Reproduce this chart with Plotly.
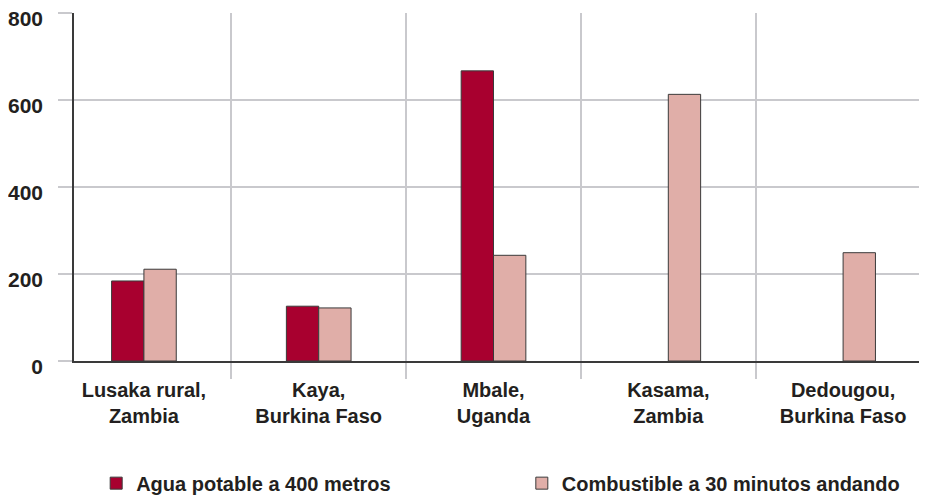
import plotly.graph_objects as go

categories = ["Lusaka rural,<br>Zambia", "Kaya,<br>Burkina Faso", "Mbale,<br>Uganda",
              "Kasama,<br>Zambia", "Dedougou,<br>Burkina Faso"]
agua = [184, 126, 667, None, None]
combustible = [211, 122, 243, 613, 249]
series_names = ["Agua potable a 400 metros", "Combustible a 30 minutos andando"]
y_ticks = [0, 200, 400, 600, 800]

FONT = "Liberation Sans"
TEXT = "#231F20"
GRID = "#C9C9CD"
LINE = "#3a3a3a"

fig = go.Figure()
fig.add_trace(go.Bar(x=categories, y=agua, name=series_names[0], legend="legend",
                     marker=dict(color="#A8002F", line=dict(color=LINE, width=1))))
fig.add_trace(go.Bar(x=categories, y=combustible, name=series_names[1], legend="legend2",
                     marker=dict(color="#E0AEA8", line=dict(color=LINE, width=1))))

legend_font = dict(family=FONT, size=20, color=TEXT, weight="bold")
fig.update_layout(
    width=927, height=495,
    margin=dict(l=66, r=8, t=5, b=142, autoexpand=False),
    plot_bgcolor="white", paper_bgcolor="white",
    barmode="group", bargap=0.63, bargroupgap=0,
    font=dict(family=FONT, color=TEXT, size=20),
    showlegend=True,
    legend=dict(orientation="h", x=0.026, y=-0.351, xanchor="left", yanchor="middle",
                font=legend_font, bgcolor="rgba(0,0,0,0)"),
    legend2=dict(orientation="h", x=0.525, y=-0.351, xanchor="left", yanchor="middle",
                 font=legend_font, bgcolor="rgba(0,0,0,0)"),
)
fig.update_xaxes(
    type="category", range=[-0.40, 4.48], automargin=False,
    tickson="boundaries", ticks="outside", ticklen=16, tickcolor=GRID, tickwidth=1.5,
    showgrid=True, gridcolor=GRID, gridwidth=1.5,
    showline=True, linecolor=LINE, linewidth=1.5,
    tickfont=dict(family=FONT, size=20, color=TEXT, weight="bold"),
    ticklabelstandoff=10, ticklabeloverflow="allow",
    fixedrange=True,
)
fig.update_yaxes(
    range=[0, 800], tickvals=y_ticks, ticktext=[str(v) for v in y_ticks], automargin=False,
    ticks="outside", ticklen=14, tickcolor=GRID, tickwidth=1.5,
    showgrid=True, gridcolor=GRID, gridwidth=1.5, zeroline=False,
    showline=True, linecolor=LINE, linewidth=1.5,
    tickfont=dict(family=FONT, size=21, color=TEXT, weight="bold"),
    ticklabelstandoff=11, ticklabelshift=6, ticklabeloverflow="allow",
)

fig.write_html("out.html")
